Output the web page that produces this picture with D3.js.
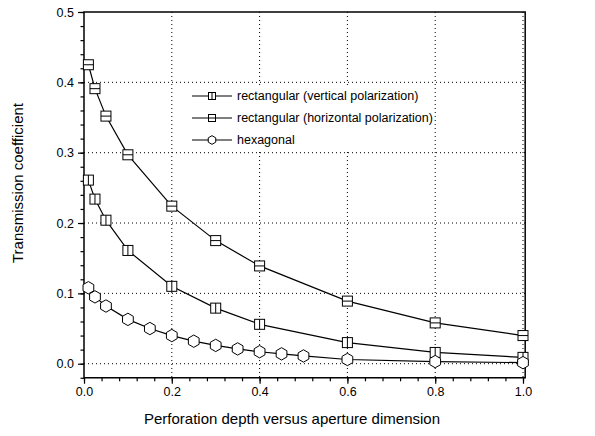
<!DOCTYPE html>
<html><head><meta charset="utf-8">
<script src="https://cdn.jsdelivr.net/npm/d3@7"></script>
<style>body{margin:0;background:#fff}svg{display:block}text{font-family:"Liberation Sans",Arial,sans-serif;fill:#000}</style>
</head><body><svg id="c" width="595" height="436"></svg>
<script>
const xTop = [0.01,0.025,0.05,0.1,0.2,0.3,0.4,0.6,0.8,1.0];
const horizontalPol = [0.425,0.391,0.352,0.297,0.224,0.175,0.139,0.089,0.058,0.040];
const verticalPol = [0.261,0.234,0.204,0.161,0.110,0.079,0.056,0.030,0.016,0.009];
const xHex = [0.01,0.025,0.05,0.1,0.15,0.2,0.25,0.3,0.35,0.4,0.45,0.5,0.6,0.8,1.0];
const hexagonal = [0.108,0.095,0.082,0.063,0.050,0.040,0.032,0.026,0.021,0.017,0.014,0.011,0.006,0.003,0.0015];
const xTicks = [0,0.2,0.4,0.6,0.8,1.0];
const yTicks = [0,0.1,0.2,0.3,0.4,0.5];
const legendLabels = ["rectangular (vertical polarization)","rectangular (horizontal polarization)","hexagonal"];

const svg = d3.select("#c");
const x = d3.scaleLinear().domain([0,1]).range([84,523]);
const y = d3.scaleLinear().domain([0,0.5]).range([363.7,12]);
const xL = x(0), xR = x(1.005), yT = y(0.5), yB = y(-0.02);

// grid
const g = svg.append("g");
g.selectAll("line.gx").data(xTicks.filter(d=>d>0)).join("line")
  .attr("x1",d=>x(d)).attr("x2",d=>x(d)).attr("y1",yT).attr("y2",yB)
  .attr("stroke","#000").attr("stroke-width",1).attr("stroke-dasharray","1,3");
g.selectAll("line.gy").data(yTicks.filter(d=>d<0.5)).join("line")
  .attr("y1",d=>y(d)).attr("y2",d=>y(d)).attr("x1",xL).attr("x2",xR)
  .attr("stroke","#000").attr("stroke-width",1).attr("stroke-dasharray","1,3");

// axes
const xMinor = d3.range(0,1.0001,0.04);
const yMinor = d3.range(-0.02,0.5001,0.02);
svg.append("g").attr("transform",`translate(0,${yB})`)
  .call(d3.axisBottom(x).tickValues(xMinor).tickSize(3.5).tickFormat(""))
  .call(a=>a.select(".domain").remove());
svg.append("g").attr("transform",`translate(0,${yB})`)
  .call(d3.axisBottom(x).tickValues(xTicks).tickSize(6).tickPadding(3).tickFormat(d3.format(".1f")))
  .call(a=>a.select(".domain").remove())
  .call(a=>a.selectAll("text").style("font-size","12.5px"));
svg.append("g").attr("transform",`translate(${xL},0)`)
  .call(d3.axisLeft(y).tickValues(yMinor).tickSize(3.5).tickFormat(""))
  .call(a=>a.select(".domain").remove());
svg.append("g").attr("transform",`translate(${xL},0)`)
  .call(d3.axisLeft(y).tickValues(yTicks).tickSize(6).tickPadding(4).tickFormat(d3.format(".1f")))
  .call(a=>a.select(".domain").remove())
  .call(a=>a.selectAll("text").style("font-size","12.5px"));
svg.selectAll(".tick line").attr("stroke","#000").attr("stroke-width",1.2);

// frame
svg.append("rect").attr("x",xL).attr("y",yT).attr("width",xR-xL).attr("height",yB-yT)
  .attr("fill","none").attr("stroke","#000").attr("stroke-width",1.5);

// series
const line = d3.line().x(d=>x(d[0])).y(d=>y(d[1]));
function hexPath(r){const p=[];for(let i=0;i<6;i++){const a=Math.PI/3*i-Math.PI/2;p.push([r*Math.cos(a),r*Math.sin(a)]);}return "M"+p.map(q=>q.join(",")).join("L")+"Z";}
function drawMarker(sel,type,s){
  if(type==="hex"){
    sel.append("path").attr("d",hexPath(s*0.62)).attr("fill","#fff").attr("stroke","#000").attr("stroke-width",1);
  } else {
    const h=s/2;
    sel.append("rect").attr("x",-h).attr("y",-h).attr("width",s).attr("height",s).attr("fill","#fff").attr("stroke","#000").attr("stroke-width",1);
    if(type==="h") sel.append("line").attr("x1",-h).attr("x2",h).attr("y1",0).attr("y2",0).attr("stroke","#000").attr("stroke-width",1);
    else sel.append("line").attr("y1",-h).attr("y2",h).attr("x1",0).attr("x2",0).attr("stroke","#000").attr("stroke-width",1);
  }
}
const series = [
  {xs:xTop, ys:horizontalPol, type:"h"},
  {xs:xTop, ys:verticalPol, type:"v"},
  {xs:xHex, ys:hexagonal, type:"hex"}
];
series.forEach(s=>{
  const pts = s.xs.map((d,i)=>[d,s.ys[i]]);
  svg.append("path").datum(pts).attr("d",line).attr("fill","none").attr("stroke","#000").attr("stroke-width",1.2);
  svg.append("g").selectAll("g").data(pts).join("g")
    .attr("transform",d=>`translate(${x(d[0])},${y(d[1])})`)
    .each(function(){drawMarker(d3.select(this),s.type,10);});
});

// legend
const lg = svg.append("g");
lg.append("rect").attr("x",187).attr("y",86).attr("width",245).attr("height",64).attr("fill","#fff");
const types = ["v","h","hex"];
legendLabels.forEach((t,i)=>{
  const cy = 96 + i*22;
  lg.append("line").attr("x1",192).attr("x2",232).attr("y1",cy).attr("y2",cy).attr("stroke","#000").attr("stroke-width",1.2);
  const m = lg.append("g").attr("transform",`translate(212,${cy})`);
  drawMarker(m,types[i],7);
  lg.append("text").attr("x",237).attr("y",cy).attr("dy","0.35em").style("font-size","12.5px").text(t);
});

// axis titles
svg.append("text").attr("x",292).attr("y",424).attr("text-anchor","middle").style("font-size","15px")
  .text("Perforation depth versus aperture dimension");
svg.append("text").attr("transform",`translate(18,183) rotate(-90)`).attr("text-anchor","middle").attr("dy","0.35em")
  .style("font-size","15px").text("Transmission coefficient");
</script></body></html>
